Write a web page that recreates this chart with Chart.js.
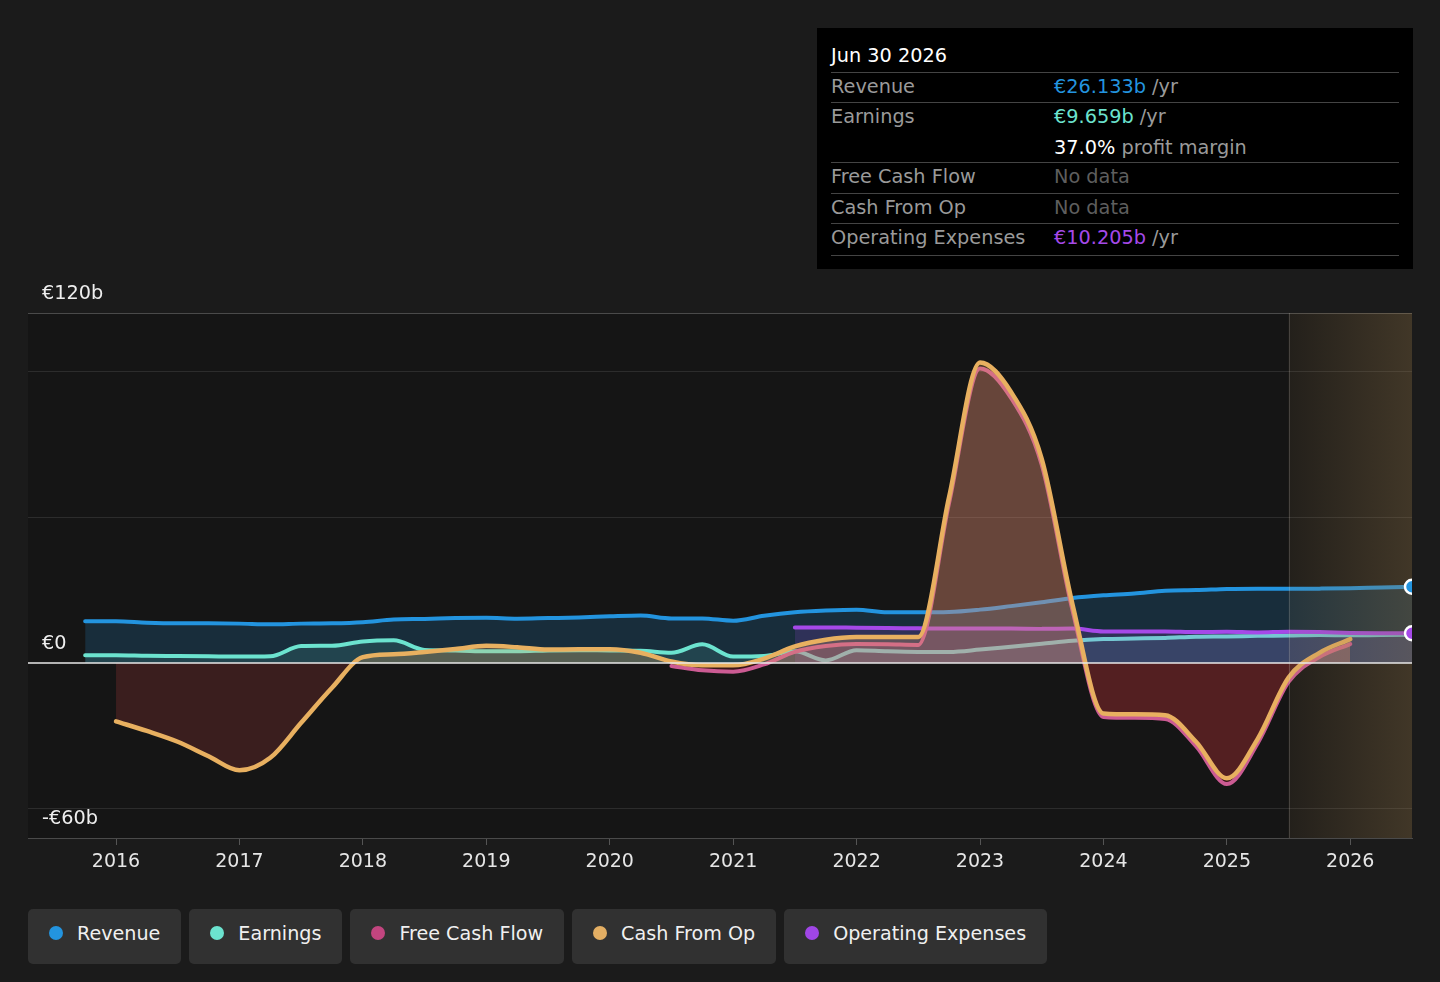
<!DOCTYPE html>
<html>
<head>
<meta charset="utf-8">
<title>Revenue, Earnings and Cash Flow</title>
<script src="https://cdn.jsdelivr.net/npm/chart.js@4.4.1/dist/chart.umd.min.js"></script>
<style>
	body { margin: 0; width: 1440px; height: 982px; overflow: hidden; position: relative; background: #1b1b1b; font-family: "DejaVu Sans", sans-serif; }
	#wrap { position: absolute; left: 0; top: 0; width: 1440px; height: 900px; }
	#tip { position: absolute; left: 817px; top: 28px; width: 596px; height: 241px; box-sizing: border-box; padding: 0 14px; background: #000; font-size: 19.3px; color: #9a9a9a; }
	#tip .head { height: 45px; box-sizing: border-box; padding-top: 16px; line-height: 24px; color: #fff; border-bottom: 1px solid #444; }
	#tip .row { display: flex; border-bottom: 1px solid #444; }
	#tip .lbl { width: 223px; }
	#tip .line { height: 29px; box-sizing: border-box; padding-top: 1px; line-height: 26px; }
	#legend { position: absolute; left: 28px; top: 909px; display: flex; gap: 8px; }
	#legend .item { height: 55px; box-sizing: border-box; padding: 0 21px 7px 21px; border-radius: 5px; background: #313131; display: flex; align-items: center; color: #f0f0f0; font-size: 19.15px; }
	#legend .dot { width: 14px; height: 14px; border-radius: 50%; margin-right: 14px; }
</style>
</head>
<body>
<div id="wrap"><canvas id="chart-fin" width="1440" height="900"></canvas></div>
<div id="tip"></div>
<div id="legend"></div>
<script>
// quarter ends, in decimal years
var quarters = [2015.75, 2016, 2016.25, 2016.5, 2016.75, 2017, 2017.25, 2017.5, 2017.75,
	2018, 2018.25, 2018.5, 2018.75, 2019, 2019.25, 2019.5, 2019.75,
	2020, 2020.25, 2020.5, 2020.75, 2021, 2021.25, 2021.5, 2021.75,
	2022, 2022.25, 2022.5, 2022.75, 2023, 2023.25, 2023.5, 2023.75,
	2024, 2024.25, 2024.5, 2024.75, 2025, 2025.25, 2025.5, 2025.75,
	2026, 2026.25, 2026.5];

// values in € billions
var revenue = [14.3, 14.3, 13.8, 13.6, 13.6, 13.5, 13.3, 13.5, 13.6,
	14.0, 14.9, 15.1, 15.4, 15.5, 15.2, 15.4, 15.6,
	16.0, 16.3, 15.3, 15.3, 14.5, 16.2, 17.4, 18.0,
	18.3, 17.4, 17.4, 17.5, 18.3, 19.5, 20.8, 22.3,
	23.2, 23.8, 24.8, 25.0, 25.4, 25.5, 25.5, 25.5,
	25.6, 25.9, 26.133];

var earnings = [2.7, 2.7, 2.5, 2.4, 2.3, 2.2, 2.3, 5.8, 5.9,
	7.4, 7.8, 4.5, 4.3, 4.0, 4.0, 4.3, 4.4,
	4.3, 4.2, 3.5, 6.4, 2.2, 2.4, 4.0, 0.9,
	4.4, 4.0, 3.8, 3.8, 4.6, 5.6, 6.6, 7.6,
	8.2, 8.4, 8.6, 9.0, 9.1, 9.3, 9.4, 9.6,
	9.5, 9.6, 9.659];

var freeCashFlow = [null, null, null, null, null, null, null, null, null,
	null, null, null, null, null, null, null, null,
	null, null, -1.0, -2.5, -3.0, -0.5, 3.8, 5.8,
	6.5, 6.4, 6.2, 55, 101, 91, 68, 18,
	-18.5, -18.8, -19.2, -28.5, -41.5, -27.5, -6.5, 2.0,
	6.5, null, null];

var cashFromOp = [null, -20.0, -23.3, -27.0, -32.0, -36.8, -32.5, -20.5, -8.5,
	2.0, 3.0, 3.8, 4.8, 5.9, 5.4, 4.6, 4.7,
	4.7, 3.5, 0.5, -0.8, -0.8, 1.5, 5.7, 8.0,
	8.9, 8.9, 8.9, 57, 103, 93, 70, 20,
	-17.3, -17.6, -17.9, -27, -39.5, -26, -5, 3.5,
	8.2, null, null];

var operatingExpenses = [null, null, null, null, null, null, null, null, null,
	null, null, null, null, null, null, null, null,
	null, null, null, null, null, null, 12.2, 12.2,
	12.1, 12.0, 11.9, 11.8, 11.8, 11.8, 11.7, 11.8,
	10.8, 10.8, 10.8, 10.6, 10.7, 10.5, 10.7, 10.6,
	10.3, 10.2, 10.205];

var seriesNames = ["Revenue", "Earnings", "Free Cash Flow", "Cash From Op", "Operating Expenses"];
var yearTicks = [2016, 2017, 2018, 2019, 2020, 2021, 2022, 2023, 2024, 2025, 2026];
var yGridValues = [-60, -50, 0, 50, 100, 120];
var yLabelValues = [120, 0, -60];
var yLabelTexts = ["€120b", "€0", "-€60b"];
var forecastStart = 2025.5;
var xMin = 2015.287, xMax = 2026.5;

var colors = {
	"Revenue": "#2394df",
	"Earnings": "#6ce3cf",
	"Free Cash Flow": "#cc5b93",
	"Cash From Op": "#e8b060",
	"Operating Expenses": "#a549e8"
};
var dotColors = ["#2394df", "#6ce3cf", "#c2457f", "#e3ae63", "#a046e6"];

function points(values)
{
	return quarters.map(function(q, i) { return { x: q, y: values[i] }; });
}

function lineSet(name, values, order, fillAbove, fillBelow, width)
{
	return {
		label: name,
		data: points(values),
		borderColor: colors[name],
		borderWidth: width,
		borderCapStyle: "round",
		borderJoinStyle: "round",
		pointRadius: 0,
		pointHoverRadius: 0,
		tension: 0.4,
		cubicInterpolationMode: "monotone",
		order: order,
		fill: { target: "origin", above: fillAbove, below: fillBelow }
	};
}

// tooltip panel and legend
function BuildTooltip()
{
	var tip = document.getElementById("tip");
	tip.innerHTML =
		'<div class="head">Jun 30 2026</div>' +
		'<div class="row"><div class="lbl line">Revenue</div><div class="line"><span style="color:#2394df">€26.133b</span> /yr</div></div>' +
		'<div class="row"><div class="lbl line">Earnings</div><div><div class="line"><span style="color:#6ce3cf">€9.659b</span> /yr</div>' +
		'<div class="line" style="height:30px;line-height:29px"><span style="color:#fff">37.0%</span> profit margin</div></div></div>' +
		'<div class="row"><div class="lbl line" style="height:30px">Free Cash Flow</div><div class="line" style="color:#5e5e5e">No data</div></div>' +
		'<div class="row"><div class="lbl line">Cash From Op</div><div class="line" style="color:#5e5e5e">No data</div></div>' +
		'<div class="row"><div class="lbl line" style="height:31px">Operating Expenses</div><div class="line"><span style="color:#a549e8">€10.205b</span> /yr</div></div>';
}

function BuildLegend()
{
	var legend = document.getElementById("legend");
	seriesNames.forEach(function(name, i)
	{
		var item = document.createElement("div");
		item.className = "item";
		var dot = document.createElement("span");
		dot.className = "dot";
		dot.style.background = dotColors[i];
		item.appendChild(dot);
		var span = document.createElement("span");
		span.textContent = name;
		item.appendChild(span);
		legend.appendChild(item);
	});
}

var plotBackground = {
	id: "plotBackground",
	beforeDraw: function(chart)
	{
		var a = chart.chartArea, ctx = chart.ctx;
		ctx.save();
		ctx.fillStyle = "#151515";
		ctx.fillRect(a.left, a.top, a.right - a.left, a.bottom - a.top);
		ctx.restore();
	}
};

var forecastShade = {
	id: "forecastShade",
	afterDatasetsDraw: function(chart)
	{
		var a = chart.chartArea, ctx = chart.ctx;
		var x0 = chart.scales.x.getPixelForValue(forecastStart);
		var zero = chart.scales.y.getPixelForValue(0);
		ctx.save();
		var g = ctx.createLinearGradient(x0, 0, a.right, 0);
		g.addColorStop(0, "rgba(150,120,75,0.11)");
		g.addColorStop(1, "rgba(150,120,75,0.34)");
		ctx.fillStyle = g;
		ctx.fillRect(x0, a.top, a.right - x0, a.bottom - a.top);
		ctx.strokeStyle = "rgba(255,255,255,0.16)";
		ctx.lineWidth = 1;
		ctx.beginPath();
		ctx.moveTo(Math.round(x0) + 0.5, a.top);
		ctx.lineTo(Math.round(x0) + 0.5, a.bottom);
		ctx.stroke();
		// zero line
		ctx.strokeStyle = "#e8e8e8";
		ctx.lineWidth = 1.5;
		ctx.beginPath();
		ctx.moveTo(a.left, zero);
		ctx.lineTo(a.right, zero);
		ctx.stroke();
		ctx.restore();
	},
	afterDraw: function(chart)
	{
		var a = chart.chartArea, ctx = chart.ctx;
		ctx.save();
		ctx.beginPath();
		ctx.rect(a.left, a.top, a.right - a.left, a.bottom - a.top);
		ctx.clip();
		[0, 4].forEach(function(i)
		{
			var meta = chart.getDatasetMeta(i);
			var last = meta.data[meta.data.length - 1];
			ctx.beginPath();
			ctx.arc(last.x, last.y, 7, 0, Math.PI * 2);
			ctx.fillStyle = chart.data.datasets[i].borderColor;
			ctx.fill();
			ctx.lineWidth = 2.5;
			ctx.strokeStyle = "#fff";
			ctx.stroke();
		});
		ctx.restore();

		ctx.save();
		ctx.fillStyle = "#eeeeee";
		ctx.font = "19.3px 'DejaVu Sans'";
		ctx.textBaseline = "alphabetic";
		yLabelValues.forEach(function(v, i)
		{
			ctx.fillText(yLabelTexts[i], a.left + 14, chart.scales.y.getPixelForValue(v) - 14.5);
		});
		ctx.restore();
	}
};

function DrawChart()
{
	new Chart("chart-fin", {
		type: "line",
		data: {
			datasets: [
				lineSet("Revenue", revenue, 5, "rgba(35,148,223,0.19)", "rgba(35,148,223,0.19)", 4),
				lineSet("Earnings", earnings, 4, "rgba(108,227,207,0.13)", "rgba(108,227,207,0.13)", 4),
				lineSet("Free Cash Flow", freeCashFlow, 2, "rgba(204,91,147,0.2)", "rgba(180,30,40,0.22)", 4),
				lineSet("Cash From Op", cashFromOp, 1, "rgba(235,170,96,0.26)", "rgba(160,55,55,0.27)", 4.5),
				lineSet("Operating Expenses", operatingExpenses, 3, "rgba(165,73,232,0.17)", "rgba(165,73,232,0.17)", 4)
			]
		},
		options: {
			responsive: false,
			animation: false,
			events: [],
			layout: { padding: { left: 28, right: 28, top: 313, bottom: 0 } },
			plugins: { legend: { display: false }, tooltip: { enabled: false } },
			scales: {
				x: {
					type: "linear",
					min: xMin,
					max: xMax,
					afterBuildTicks: function(scale) { scale.ticks = yearTicks.map(function(v) { return { value: v }; }); },
					afterFit: function(scale) { scale.height = 62; },
					ticks: {
						color: "#e6e6e6",
						font: { family: "DejaVu Sans", size: 19 },
						padding: 6,
						maxRotation: 0,
						autoSkip: false,
						callback: function(v) { return String(v); }
					},
					grid: { drawOnChartArea: false, drawTicks: true, tickLength: 7, color: "#555" },
					border: { display: true, color: "#4a4a4a" }
				},
				y: {
					min: -60,
					max: 120,
					afterBuildTicks: function(scale) { scale.ticks = yGridValues.map(function(v) { return { value: v }; }); },
					afterFit: function(scale) { scale.width = 0; },
					ticks: { display: false },
					grid: {
						drawTicks: false,
						color: function(c)
						{
							if (c.tick.value === 0) return "rgba(0,0,0,0)";
							if (c.tick.value === 120 || c.tick.value === -60) return "#4a4a4a";
							return "#2c2c2c";
						}
					},
					border: { display: false }
				}
			}
		},
		plugins: [plotBackground, forecastShade]
	});
}

BuildTooltip();
BuildLegend();
DrawChart();
</script>
</body>
</html>
